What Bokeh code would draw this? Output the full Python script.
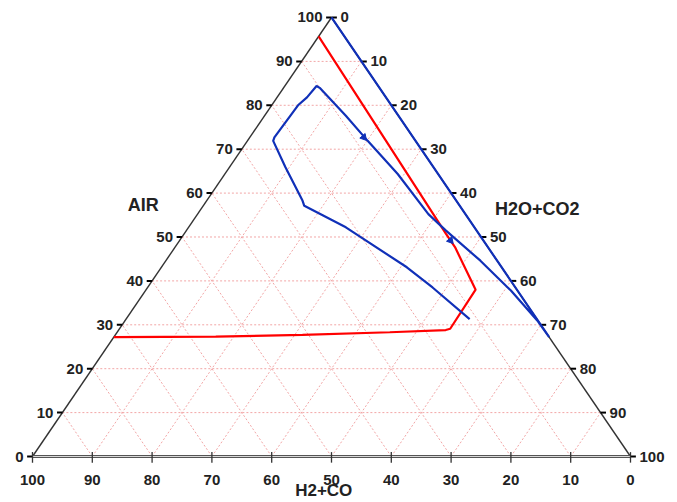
from bokeh.plotting import figure
from bokeh.models import Range1d
from bokeh.embed import file_html
from bokeh.resources import INLINE
from bokeh.core.properties import value

# ---- data (ternary: AIR = top vertex, H2O+CO2 = bottom-right, H2+CO = bottom-left) ----
ticks = [0, 10, 20, 30, 40, 50, 60, 70, 80, 90, 100]
tick_labels = [str(t) for t in ticks]

red_air = [95.7, 50.7, 47.7, 38.0, 29.1, 28.8, 28.3, 27.7, 27.3, 27.2]
red_h2o = [0.0, 43.8, 46.8, 55.1, 55.3, 54.7, 45.6, 31.3, 17.0, 0.0]

blue_air = [100.0, 27.2, 31.0, 37.8, 44.6, 51.5, 55.2, 64.35, 71.9, 77.6, 83.9,
            84.4, 81.8, 80.0, 72.7, 71.9, 65.9, 58.3, 57.1, 52.2, 43.1, 38.5, 31.3]
blue_h2o = [0.0, 72.8, 68.9, 61.1, 52.6, 43.35, 38.6, 28.9, 20.1, 13.6, 6.15,
            5.3, 5.0, 4.4, 4.1, 4.3, 9.35, 16.0, 16.9, 26.3, 41.05, 47.65, 57.45]

arrow_air = [72.7, 49.2]
arrow_h2o = [19.05, 45.3]

def tx(air, h2o):
    return [w + a / 2.0 for a, w in zip(air, h2o)]

W, H = 677, 502
p = figure(width=W, height=H, output_backend="svg", toolbar_location=None,
           x_range=Range1d(-5.351, 107.86), y_range=Range1d(-10.478, 103.87),
           min_border=0, outline_line_color=None)
p.xaxis.visible = False
p.yaxis.visible = False
p.xgrid.visible = False
p.ygrid.visible = False

grid_col = "#f2a6a6"
inner = ticks[1:-1]
gx0, gy0, gx1, gy1 = [], [], [], []
for k in inner:
    gx0.append(k / 2.0); gy0.append(k); gx1.append(100 - k / 2.0); gy1.append(k)
    gx0.append(k); gy0.append(0); gx1.append(k + (100 - k) / 2.0); gy1.append(100 - k)
    gx0.append(100 - k); gy0.append(0); gx1.append((100 - k) / 2.0); gy1.append(100 - k)
p.segment(gx0, gy0, gx1, gy1, line_color=grid_col, line_width=1, line_dash="2 2")

# triangle sides
p.line([0, 50], [0, 100], line_color="#333333", line_width=1.4)
p.line([50, 100], [100, 0], line_color="#333333", line_width=1.4)
p.line([0, 100], [0, 0], line_color="#555555", line_width=3.2)
p.line([0, 100], [0, 0], line_color="#e8e8e8", line_width=0.9)

# tick marks
lt = 0.9
p.segment([t / 2.0 - lt for t in ticks], ticks, [t / 2.0 for t in ticks], ticks,
          line_color="black", line_width=2)
p.segment([100 - (100 - t) / 2.0 for t in ticks], [100 - t for t in ticks],
          [100 - (100 - t) / 2.0 + lt for t in ticks], [100 - t for t in ticks],
          line_color="black", line_width=2)
p.segment(ticks, [-1.4] * len(ticks), ticks, [1.0] * len(ticks),
          line_color="#333333", line_width=1.3)

font = value("Liberation Sans")
nsize = "15px"
p.text([t / 2.0 for t in ticks], ticks, text=tick_labels, text_font=font,
       text_font_size=nsize, text_font_style="bold", text_align="right",
       text_baseline="middle", x_offset=-9, text_color="#222222")
p.text([50 + t / 2.0 for t in ticks], [100 - t for t in ticks], text=tick_labels,
       text_font=font, text_font_size=nsize, text_font_style="bold",
       text_align="left", text_baseline="middle", x_offset=9, text_color="#222222")
p.text(ticks, [0] * len(ticks), text=[str(100 - t) for t in ticks], text_font=font,
       text_font_size=nsize, text_font_style="bold", text_align="center",
       text_baseline="middle", y_offset=23, text_color="#222222")

# axis titles
tsize = "18px"
p.text([18.5], [57.2], text=["AIR"], text_font=font, text_font_size=tsize,
       text_font_style="bold", text_align="center", text_baseline="middle",
       text_color="#222222")
p.text([84.4], [56.4], text=["H2O+CO2"], text_font=font, text_font_size=tsize,
       text_font_style="bold", text_align="center", text_baseline="middle",
       text_color="#222222")
p.text([48.7], [0], text=["H2+CO"], text_font=font, text_font_size="17px",
       text_font_style="bold", text_align="center", text_baseline="middle",
       y_offset=34, text_color="#222222")

# data curves
p.line(tx(red_air, red_h2o), red_air, line_color="#ff0000", line_width=2.2)
p.line(tx(blue_air, blue_h2o), blue_air, line_color="#1030b8", line_width=2.2)
p.scatter(tx(arrow_air, arrow_h2o), arrow_air, marker="triangle", size=7,
          angle=-2.43, fill_color="#1030b8", line_color="#1030b8")

open("out.html", "w").write(file_html(p, INLINE))
